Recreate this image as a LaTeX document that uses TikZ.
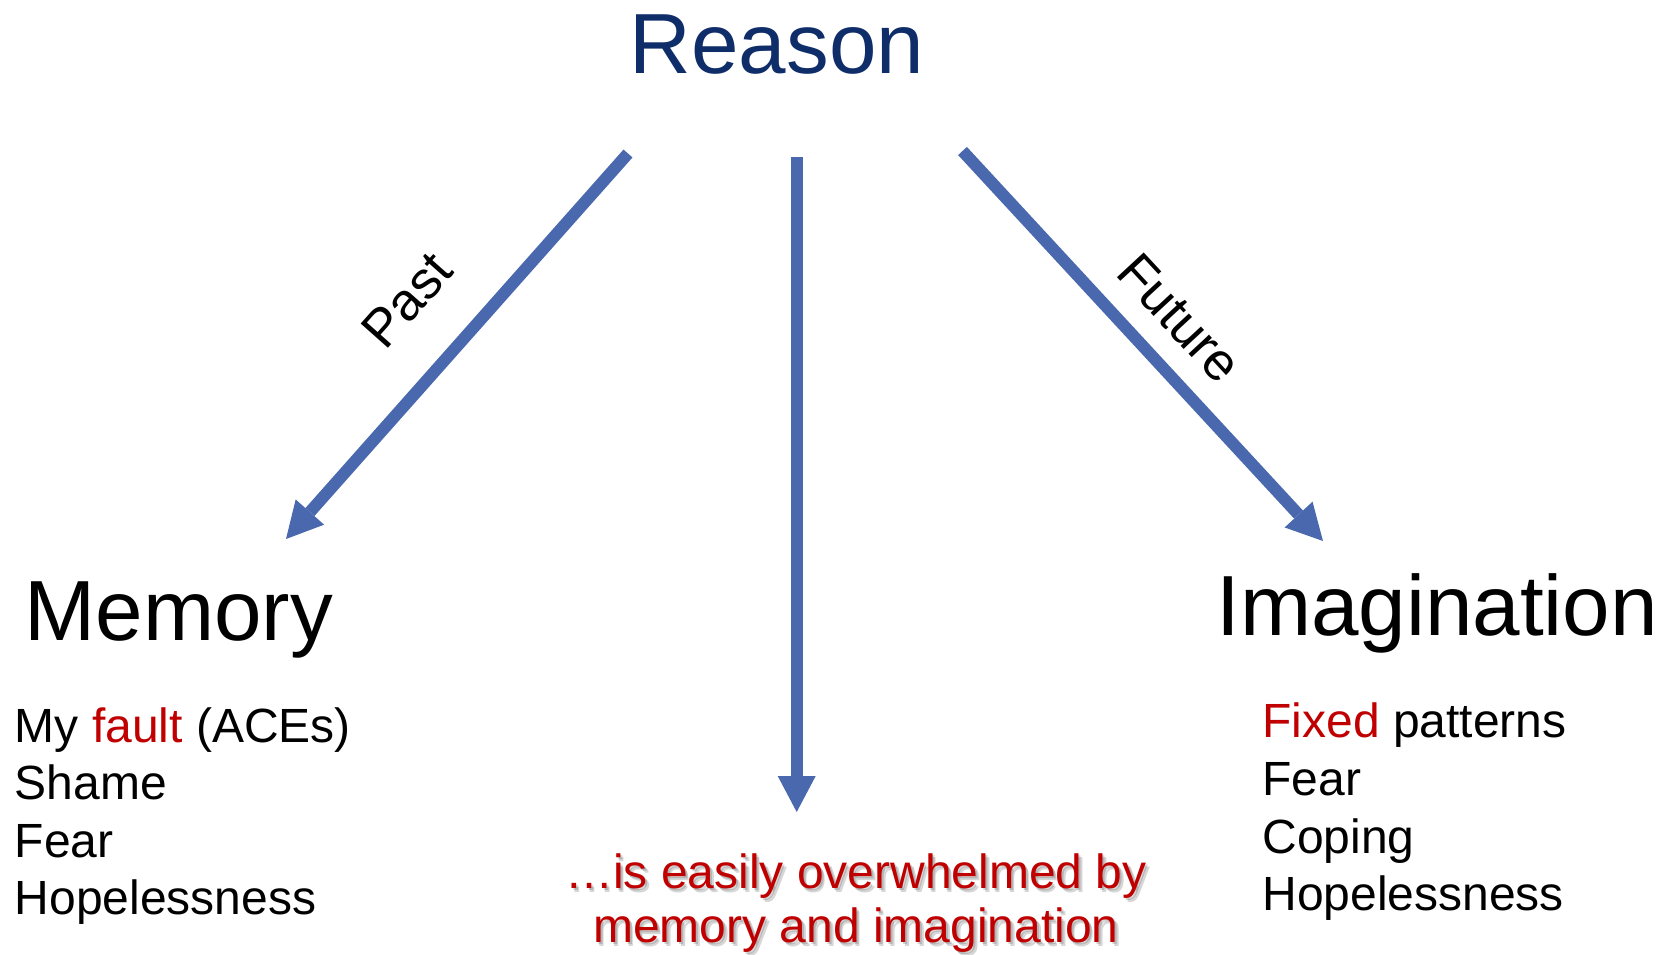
\documentclass[tikz,border=0pt]{standalone}
\usepackage{fontspec}
\setmainfont{Liberation Sans}
\usetikzlibrary{arrows.meta}
\definecolor{reasonblue}{RGB}{15,45,105}
\definecolor{arrowblue}{RGB}{73,104,174}
\definecolor{alertred}{RGB}{192,0,0}
\begin{document}
\begin{tikzpicture}[x=0.5pt,y=-0.5pt,
  heading/.style={inner sep=0pt, font=\fontsize{42.7}{50}\selectfont},
  listitem/.style={inner sep=0pt, anchor=base west, font=\fontsize{24}{28}\selectfont},
  pathlabel/.style={inner sep=0pt, font=\fontsize{26.5}{30}\selectfont},
  caption/.style={inner sep=0pt, anchor=base, font=\fontsize{24}{28}\selectfont, text=alertred},
  captionshadow/.style={caption, text=black, opacity=0.16},
  flow/.style={draw=arrowblue, line width=6pt,
    -{Triangle[length=18pt,width=19pt,line width=0pt]}}]
\useasboundingbox (0,0) rectangle (1660,954);

% headings
\node[heading, anchor=base, text=reasonblue] (reason) at (777,73) {Reason};
\node[heading, anchor=base west] (memory) at (24,640) {Memory};
\node[heading, anchor=base west] (imagination) at (1216,635) {Imagination};

% arrow end points
\coordinate (pastStart) at (628,153.5);
\coordinate (pastEnd) at (286,539);
\coordinate (nowStart) at (796.7,157);
\coordinate (nowEnd) at (796.7,812);
\coordinate (futureStart) at (962.5,151);
\coordinate (futureEnd) at (1323,541);

\draw[flow] (pastStart) -- (pastEnd);
\draw[flow] (nowStart) -- (nowEnd);
\draw[flow] (futureStart) -- (futureEnd);

\node[pathlabel, rotate=48.4] (past) at (407,300) {Past};
\node[pathlabel, rotate=-47.2] (future) at (1180,318) {Future};

% memory list
\node[listitem] (mem1) at (14.5,742) {My \textcolor{alertred}{fault} (ACEs)};
\node[listitem] (mem2) at (14.5,799.5) {Shame};
\node[listitem] (mem3) at (14.5,857) {Fear};
\node[listitem] (mem4) at (14.5,914.5) {Hopelessness};

% imagination list
\node[listitem] (img1) at (1262,737) {\textcolor{alertred}{Fixed} patterns};
\node[listitem] (img2) at (1262,795) {Fear};
\node[listitem] (img3) at (1262,853) {Coping};
\node[listitem] (img4) at (1262,910.5) {Hopelessness};

% caption with a soft drop shadow
\node[captionshadow] (capShadowA1) at (858,890.5) {\ldots is easily overwhelmed by};
\node[captionshadow] (capShadowA2) at (858,944.5) {memory and imagination};
\node[captionshadow] (capShadowB1) at (859.5,892) {\ldots is easily overwhelmed by};
\node[captionshadow] (capShadowB2) at (859.5,946) {memory and imagination};
\node[caption] (cap1) at (856,888) {\ldots is easily overwhelmed by};
\node[caption] (cap2) at (856,942) {memory and imagination};
\end{tikzpicture}
\end{document}
